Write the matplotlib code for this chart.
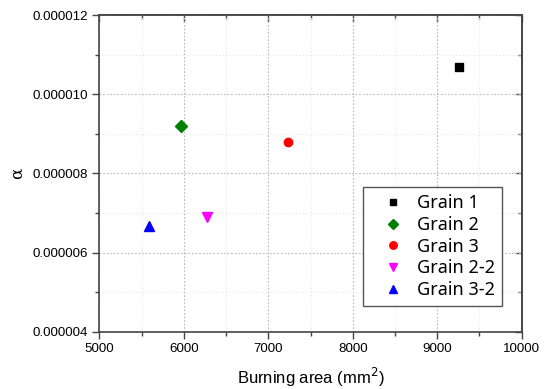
import matplotlib
matplotlib.use("Agg")
import matplotlib.pyplot as plt
from matplotlib.ticker import MultipleLocator, FormatStrFormatter

labels = ["Grain 1", "Grain 2", "Grain 3", "Grain 2-2", "Grain 3-2"]
areas = [9260, 5970, 7230, 6270, 5590]
alphas = [1.069e-5, 9.19e-6, 8.78e-6, 6.89e-6, 6.68e-6]
markers = ["s", "D", "o", "v", "^"]
colors = ["black", "green", "red", "magenta", "blue"]
sizes = [5.5, 6, 6, 7, 7]

plt.rcParams['font.family'] = ['Liberation Sans', 'DejaVu Sans']

fig = plt.figure(figsize=(5.46, 3.89), dpi=100)
ax = fig.add_axes([0.1819, 0.1473, 0.9555 - 0.1819, 0.9614 - 0.1473])

for a, al, m, c, s, lb in zip(areas, alphas, markers, colors, sizes, labels):
    ax.plot(a, al, linestyle='none', marker=m, color=c, markersize=s, label=lb, zorder=3)

ax.set_xlim(5000, 10000)
ax.set_ylim(4e-6, 12e-6)
ax.xaxis.set_major_locator(MultipleLocator(1000))
ax.xaxis.set_minor_locator(MultipleLocator(500))
ax.yaxis.set_major_locator(MultipleLocator(2e-6))
ax.yaxis.set_minor_locator(MultipleLocator(1e-6))
ax.yaxis.set_major_formatter(FormatStrFormatter('%.6f'))

ax.grid(which='major', linestyle=(0, (1.6, 1.6)), color='#bdbdbd', linewidth=0.8)
ax.grid(which='minor', linestyle=(0, (1, 2)), color='#e6e6e6', linewidth=0.8)
ax.set_axisbelow(True)

tc = '#444444'
ax.tick_params(which='both', direction='out', labelsize=9.6, width=1, color=tc, pad=3)
ax.tick_params(which='major', length=5)
ax.tick_params(which='minor', length=3)
for sp in ax.spines.values():
    sp.set_linewidth(1.2)
    sp.set_color(tc)

ax.set_xlabel("Burning area (mm$^2$)", fontsize=12, labelpad=8)
ax.set_ylabel("α", fontsize=12, family=['DejaVu Serif'], labelpad=5)

# right/top inward ticks
axr = ax.secondary_yaxis('right')
axr.yaxis.set_major_locator(MultipleLocator(2e-6))
axr.yaxis.set_minor_locator(MultipleLocator(1e-6))
axr.tick_params(which='both', direction='in', labelright=False, color=tc, width=1)
axr.tick_params(which='major', length=5)
axr.tick_params(which='minor', length=3)
axr.spines['right'].set_color(tc)
axr.spines['right'].set_linewidth(1.2)
axt = ax.secondary_xaxis('top')
axt.xaxis.set_major_locator(MultipleLocator(1000))
axt.xaxis.set_minor_locator(MultipleLocator(500))
axt.tick_params(which='both', direction='in', labeltop=False, color=tc, width=1)
axt.tick_params(which='major', length=5)
axt.tick_params(which='minor', length=3)
axt.spines['top'].set_color(tc)
axt.spines['top'].set_linewidth(1.2)

leg = ax.legend(loc='lower right', bbox_to_anchor=(0.953, 0.081), fancybox=False,
                edgecolor='#555555', framealpha=1, prop={'family': ['Noto Sans', 'DejaVu Sans'], 'size': 13},
                handletextpad=0.05, labelspacing=0.2, borderpad=0.4, borderaxespad=0,
                handlelength=2.5, markerscale=0.9)
leg.get_frame().set_linewidth(1.0)

fig.savefig("out.png", dpi=100)
